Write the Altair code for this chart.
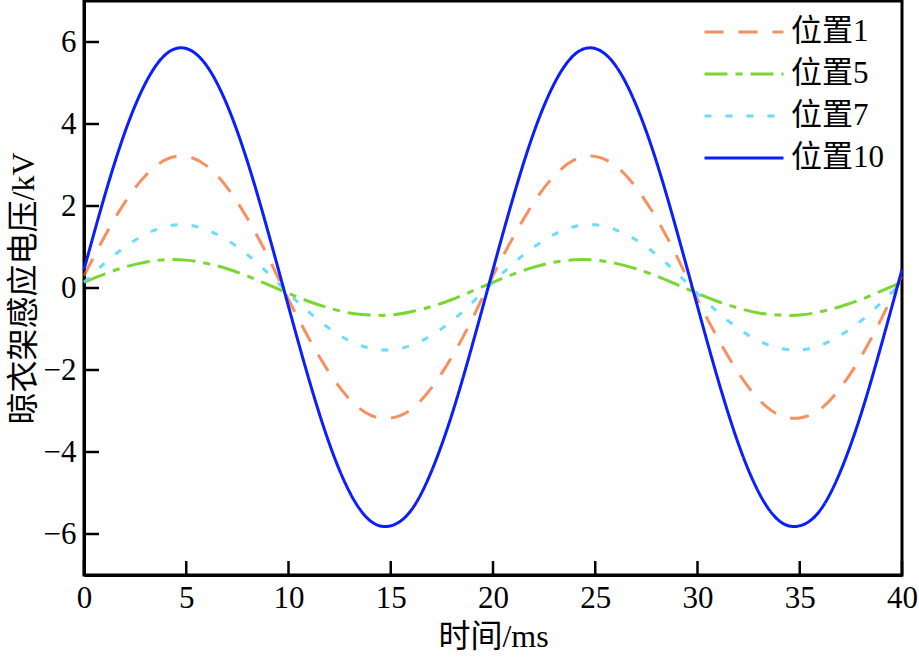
import altair as alt
import pandas as pd

# time axis (ms)
t_ms = list(range(0, 41))

# readings per position (kV)
pos1 = [0.30, 1.25, 2.09, 2.74, 3.13, 3.21, 2.98, 2.45, 1.69, 0.76,
        -0.28, -1.23, -2.07, -2.72, -3.10, -3.17, -2.96, -2.43, -1.67, -0.74,
        0.30, 1.25, 2.09, 2.74, 3.13, 3.21, 2.98, 2.45, 1.69, 0.76,
        -0.28, -1.23, -2.07, -2.72, -3.10, -3.17, -2.96, -2.43, -1.67, -0.74,
        0.30]
pos5 = [0.14, 0.34, 0.51, 0.63, 0.69, 0.68, 0.60, 0.47, 0.29, 0.08,
        -0.13, -0.33, -0.49, -0.61, -0.66, -0.66, -0.58, -0.45, -0.28, -0.07,
        0.14, 0.34, 0.51, 0.63, 0.69, 0.68, 0.60, 0.47, 0.29, 0.08,
        -0.13, -0.33, -0.49, -0.61, -0.66, -0.66, -0.58, -0.45, -0.28, -0.07,
        0.14]
pos7 = [0.14, 0.60, 1.00, 1.31, 1.50, 1.54, 1.42, 1.17, 0.81, 0.36,
        -0.13, -0.59, -0.99, -1.29, -1.47, -1.51, -1.40, -1.15, -0.80, -0.35,
        0.14, 0.60, 1.00, 1.31, 1.50, 1.54, 1.42, 1.17, 0.81, 0.36,
        -0.13, -0.59, -0.99, -1.29, -1.47, -1.51, -1.40, -1.15, -0.80, -0.35,
        0.14]
pos10 = [0.45, 2.23, 3.80, 4.99, 5.70, 5.84, 5.42, 4.46, 3.07, 1.37,
         -0.45, -2.23, -3.80, -4.99, -5.68, -5.80, -5.42, -4.46, -3.07, -1.37,
         0.45, 2.23, 3.80, 4.99, 5.70, 5.84, 5.42, 4.46, 3.07, 1.37,
         -0.45, -2.23, -3.80, -4.99, -5.68, -5.80, -5.42, -4.46, -3.07, -1.37,
         0.45]

series_names = ["位置1", "位置5", "位置7", "位置10"]
series_values = [pos1, pos5, pos7, pos10]
series_colors = ["#F26522", "#5BCC00", "#5CD8FF", "#0A1EFF"]
series_dashes = [[19, 15], [23, 8, 7, 8], [7, 14], [1, 0]]
series_opacity = [0.72, 1, 1, 1]

x_ticks = [0, 5, 10, 15, 20, 25, 30, 35, 40]
y_ticks = [-6, -4, -2, 0, 2, 4, 6]

rows = []
for name, vals in zip(series_names, series_values):
    for t, v in zip(t_ms, vals):
        rows.append({"t": t, "v": v, "s": name})
df = pd.DataFrame(rows)

FONT = "Liberation Serif, Noto Sans CJK SC"
W, H = 818, 574

x_enc = alt.X("t:Q", scale=alt.Scale(domain=[0, 40], nice=False, zero=False),
              axis=alt.Axis(values=x_ticks, title="时间/ms", tickSize=0, labelFlush=False,
                            labelPadding=8, titlePadding=8, grid=False))
y_enc = alt.Y("v:Q", scale=alt.Scale(domain=[-7, 7], nice=False, zero=False),
              axis=alt.Axis(values=y_ticks, title="晾衣架感应电压/kV", tickSize=0, labelFlush=False,
                            labelPadding=8, titlePadding=3, grid=False))

leg = alt.Legend(title=None, orient="none", legendX=619, legendY=15)

lines = alt.Chart(df).mark_line(strokeWidth=3, interpolate="natural").encode(
    x=x_enc,
    y=y_enc,
    color=alt.Color("s:N", scale=alt.Scale(domain=series_names, range=series_colors), legend=leg),
    strokeDash=alt.StrokeDash("s:N", scale=alt.Scale(domain=series_names, range=series_dashes), legend=leg),
    opacity=alt.Opacity("s:N", scale=alt.Scale(domain=series_names, range=series_opacity), legend=None),
    order=alt.Order("t:Q"),
)

xt = alt.Chart(pd.DataFrame({"t": x_ticks})).mark_rule(color="black", strokeWidth=2.5).encode(
    x=x_enc, y=alt.value(H - 14), y2=alt.value(H)
)
yt = alt.Chart(pd.DataFrame({"v": y_ticks})).mark_rule(color="black", strokeWidth=2.5).encode(
    y=y_enc, x=alt.value(0), x2=alt.value(15)
)

chart = alt.layer(xt, yt, lines).properties(
    width=W, height=H,
    padding={"left": 84, "top": 1, "right": 17, "bottom": 82},
    autosize=alt.AutoSizeParams(type="none"),
).configure_view(
    stroke="black", strokeWidth=3
).configure_axis(
    domainColor="black", domainWidth=3,
    labelFont=FONT, labelFontSize=31, labelColor="black",
    titleFont=FONT, titleFontSize=32, titleColor="black", titleFontWeight="normal",
).configure_legend(
    labelFont=FONT, labelFontSize=31, labelColor="black",
    symbolType="stroke", symbolSize=6241, symbolStrokeWidth=3,
    clipHeight=32, rowPadding=10, labelOffset=6, padding=0,
)

chart.save("out.html", embed_options={"renderer": "svg", "actions": False})
